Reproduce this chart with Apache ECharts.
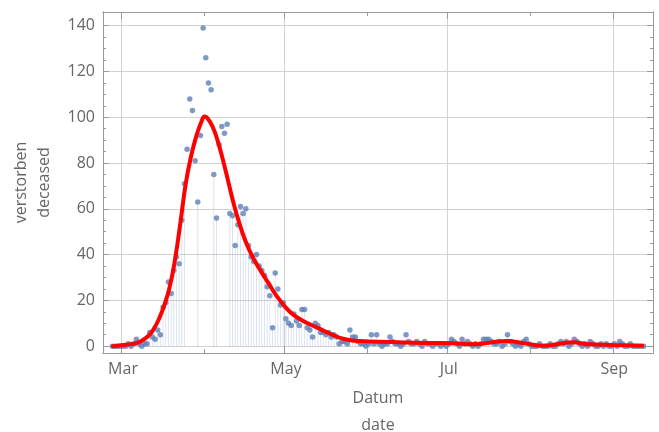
<!DOCTYPE html>
<html><head><meta charset="utf-8">
<script src="https://cdn.jsdelivr.net/npm/echarts@6/dist/echarts.min.js"></script>
<style>html,body{margin:0;padding:0;background:#fff}#c{width:659px;height:432px}</style>
</head><body><div id="c"></div>
<script>
// ---- data ----
const axisStart = '2020-02-23';
const axisEnd = '2020-09-15';
const dataStart = '2020-02-26';
// daily deceased, one value per day starting at dataStart
const deceased = [
  0,0,0,0,0,0,1,0,1,3,
  1,0,1,1,6,4,3,7,5,17,
  19,28,23,33,39,36,55,71,86,108,
  103,81,63,92,139,126,115,112,75,56,
  88,96,93,97,58,57,44,53,61,58,
  60,44,39,37,40,35,33,31,26,22,
  8,32,25,18,19,12,10,9,14,11,
  9,16,16,8,7,4,10,9,6,6,
  5,6,4,5,4,1,2,2,1,7,
  4,4,2,1,1,0,1,5,1,5,
  1,0,1,1,4,2,1,1,0,1,
  5,2,1,1,2,1,0,2,1,1,
  0,1,1,0,1,0,1,3,2,1,
  0,3,1,2,1,0,1,0,1,3,
  3,3,2,1,1,2,0,1,5,2,
  1,0,1,0,2,3,1,0,0,0,
  1,0,0,0,1,0,0,1,2,1,
  2,0,1,3,2,1,0,1,0,2,
  1,0,0,1,0,1,0,0,1,0,
  2,1,0,0,1,0,0,0,0,0
];
// smooth fitted curve (red), read at these times
const fitTimes = [
  '2020-02-26 17:00','2020-03-01','2020-03-05','2020-03-08','2020-03-11',
  '2020-03-13','2020-03-15','2020-03-17','2020-03-19','2020-03-21',
  '2020-03-23','2020-03-25','2020-03-27','2020-03-29','2020-03-31',
  '2020-04-01','2020-04-02','2020-04-04','2020-04-06','2020-04-08',
  '2020-04-10','2020-04-12','2020-04-14','2020-04-16','2020-04-18',
  '2020-04-20','2020-04-22','2020-04-25','2020-04-28','2020-05-01',
  '2020-05-04','2020-05-08','2020-05-13','2020-05-18','2020-05-23',
  '2020-05-29','2020-06-10','2020-06-23','2020-07-03','2020-07-10',
  '2020-07-23','2020-07-30 12:00','2020-08-06','2020-08-17','2020-08-23',
  '2020-09-01','2020-09-12'
];
const fitValues = [
  0,0.4,1,2,4.5,
  7.5,12,18,26,38,
  54,71,83,92,98.5,
  100.3,99.8,96,89.5,81,
  71.5,62,54,47,41.5,
  37,33,27.5,22,17.5,
  14,11,8.2,5.5,3.2,
  2.2,1.8,1.4,1.3,0.8,
  2.2,1.1,0.2,1.7,0.8,
  0.5,0.2
];
const yMajorTicks = [0,20,40,60,80,100,120,140];
const yMinorTicks = [5,10,15,25,30,35,45,50,55,65,70,75,85,90,95,105,110,115,125,130,135];
const majorMonths = {'03':'Mar','05':'May','07':'Jul','09':'Sep'};
const minorMonths = ['04','06','08'];
const fillLimit = 78; // drop lines not drawn for the highest points

// ---- build ----
const dayMs = 86400000;
function ymd(t){const d=new Date(t);return d.getUTCFullYear()+'-'+String(d.getUTCMonth()+1).padStart(2,'0')+'-'+String(d.getUTCDate()).padStart(2,'0');}
const categories = [];
for(let t=Date.parse(axisStart+'T00:00:00Z'); t<=Date.parse(axisEnd+'T00:00:00Z'); t+=dayMs) categories.push(ymd(t));
const off = categories.indexOf(dataStart);
const points = deceased.map((v,i)=>[categories[off+i], v]);
const drops = deceased.map((v,i)=>[categories[off+i], v < fillLimit ? v : '-']);
const fit = fitTimes.map((t,i)=>[t, fitValues[i]]);

const isMajor = (i,v)=> v.slice(8)==='01' && (v.slice(5,7) in majorMonths);
const isMinor = (i,v)=> v.slice(8)==='01' && minorMonths.includes(v.slice(5,7));
const frame = '#9a9a9a', gridC = '#d2d2d2', txt = '#666';
const font = 'Open Sans';
const line = {onZero:false, lineStyle:{color:frame,width:1}};

function xAx(pos, major, extra){
  return Object.assign({
    type:'category', data:categories, boundaryGap:true, position:pos,
    axisLine:line,
    axisTick:{show:true, inside:true, length: major?7:4, interval: major?isMajor:isMinor, lineStyle:{color:frame}},
    axisLabel:{show:false},
    splitLine:{show:false}
  }, extra||{});
}
function yAx(pos, major, extra){
  return Object.assign({
    type:'value', min:-3, max:146, position:pos, offset:0,
    axisLine:Object.assign({show:true}, line),
    axisTick:{show:true, inside:true, length: major?6:3, customValues: major?yMajorTicks:yMinorTicks, lineStyle:{color:frame}},
    axisLabel:{show:false},
    splitLine:{show:false}
  }, extra||{});
}

const chart = echarts.init(document.getElementById('c'), null, {renderer:'canvas'});
chart.setOption({
  animation:false,
  backgroundColor:'#fff',
  grid:{left:103, right:6, top:12, bottom:79, containLabel:false, outerBoundsMode:'none'},
  xAxis:[
    xAx('bottom', true, {
      axisLabel:{show:true, interval:isMajor, formatter:v=>majorMonths[v.slice(5,7)]||'', color:txt, fontSize:16, fontFamily:font, margin:8},
      splitLine:{show:true, interval:isMajor, lineStyle:{color:gridC, width:1}},
      name:'Datum\ndate', nameLocation:'middle', nameGap:32,
      nameTextStyle:{color:txt, fontSize:16, fontFamily:font, lineHeight:27}
    }),
    xAx('bottom', false),
    xAx('top', true),
    xAx('top', false),
    {type:'time', min:axisStart, max:'2020-09-16', show:false}
  ],
  yAxis:[
    yAx('left', true, {
      axisLabel:{show:true, customValues:yMajorTicks, color:txt, fontSize:16, fontFamily:font, margin:8},
      splitLine:{show:true, lineStyle:{color:gridC, width:1}},
      name:'verstorben\ndeceased', nameLocation:'middle', nameGap:47,
      nameTextStyle:{color:txt, fontSize:16, fontFamily:font, lineHeight:23}
    }),
    yAx('left', false),
    yAx('right', true),
    yAx('right', false)
  ],
  series:[
    {type:'bar', xAxisIndex:0, yAxisIndex:0, data:drops, barWidth:1, itemStyle:{color:'rgba(94,129,181,0.22)'}, silent:true, z:2},
    {type:'scatter', xAxisIndex:0, yAxisIndex:0, data:points, symbolSize:5.5, itemStyle:{color:'#5e81b5'}, z:3},
    {type:'line', xAxisIndex:4, yAxisIndex:0, data:fit, smooth:0.5, showSymbol:false, lineStyle:{color:'#ff0000', width:4, join:'round', cap:'round'}, z:4}
  ]
});
</script></body></html>
